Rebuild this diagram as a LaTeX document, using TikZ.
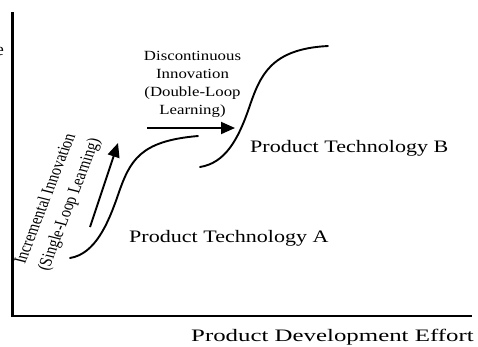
\documentclass[tikz,border=0pt]{standalone}
\usepackage{fontspec}
\usepackage{graphicx}
\setmainfont{Liberation Serif}
\usetikzlibrary{arrows.meta}
\begin{document}
\begin{tikzpicture}[x=1pt,y=-1pt,
  axisline/.style={line width=2.3pt, line join=miter},
  scurve/.style={line width=1.9pt, line cap=round},
  shiftarrow/.style={line width=1.9pt, -{Triangle[length=14pt,width=12pt]}},
  biglabel/.style={inner sep=0pt, font=\fontsize{17.5}{20}\selectfont},
  smalllabel/.style={inner sep=0pt, align=center, font=\fontsize{14}{18}\selectfont},
  slantlabel/.style={inner sep=0pt, align=center, font=\fontsize{14.5}{20}\selectfont}
]
\useasboundingbox (0,0) rectangle (478,346);

% axes
\coordinate (ytop) at (12.5,12);
\coordinate (origin) at (12.5,316);
\coordinate (xend) at (472,316);
\draw[axisline] (ytop) -- (origin) -- (xend);

% tail of the vertical axis title, cut by the page edge
\node[biglabel, anchor=base east] (ytitle) at (4,55) {e};

% axis title
\node[biglabel, anchor=base west] (xtitle) at (191,341)
  {\scalebox{1.42}[1]{Product Development Effort}};

% S-curve of product technology A
\coordinate (a0) at (70,258);
\coordinate (a1) at (118,195);
\coordinate (a2) at (198,136);
\draw[scurve] (a0) .. controls (95,254) and (108,224) .. (a1)
                   .. controls (130,160) and (140,141) .. (a2);

% S-curve of product technology B
\coordinate (b0) at (200,167);
\coordinate (b1) at (249,108);
\coordinate (b2) at (328,46);
\draw[scurve] (b0) .. controls (225,163) and (238,140) .. (b1)
                   .. controls (260,76) and (270,49) .. (b2);

\node[biglabel, anchor=base west] (techA) at (129,242)
  {\scalebox{1.26}[1]{Product Technology A}};
\node[biglabel, anchor=base west] (techB) at (250,152)
  {\scalebox{1.26}[1]{Product Technology B}};

% incremental innovation along curve A
\coordinate (incTail) at (90,227);
\coordinate (incTip) at (118,143);
\draw[shiftarrow] (incTail) -- (incTip);
\begin{scope}[shift={(58,202)}, xscale=1.25]
  \node[slantlabel, rotate=72.6, transform shape] (incLabel) at (0,0)
    {Incremental Innovation\\(Single-Loop Learning)};
\end{scope}

% discontinuous innovation from A to B
\coordinate (disTail) at (147,128);
\coordinate (disTip) at (235,128);
\draw[shiftarrow] (disTail) -- (disTip);
\node[smalllabel] (disLabel) at (192.5,84)
  {\scalebox{1.2}[1]{Discontinuous}\\\scalebox{1.2}[1]{Innovation}\\
   \scalebox{1.2}[1]{(Double-Loop}\\\scalebox{1.2}[1]{Learning)}};
\end{tikzpicture}
\end{document}
